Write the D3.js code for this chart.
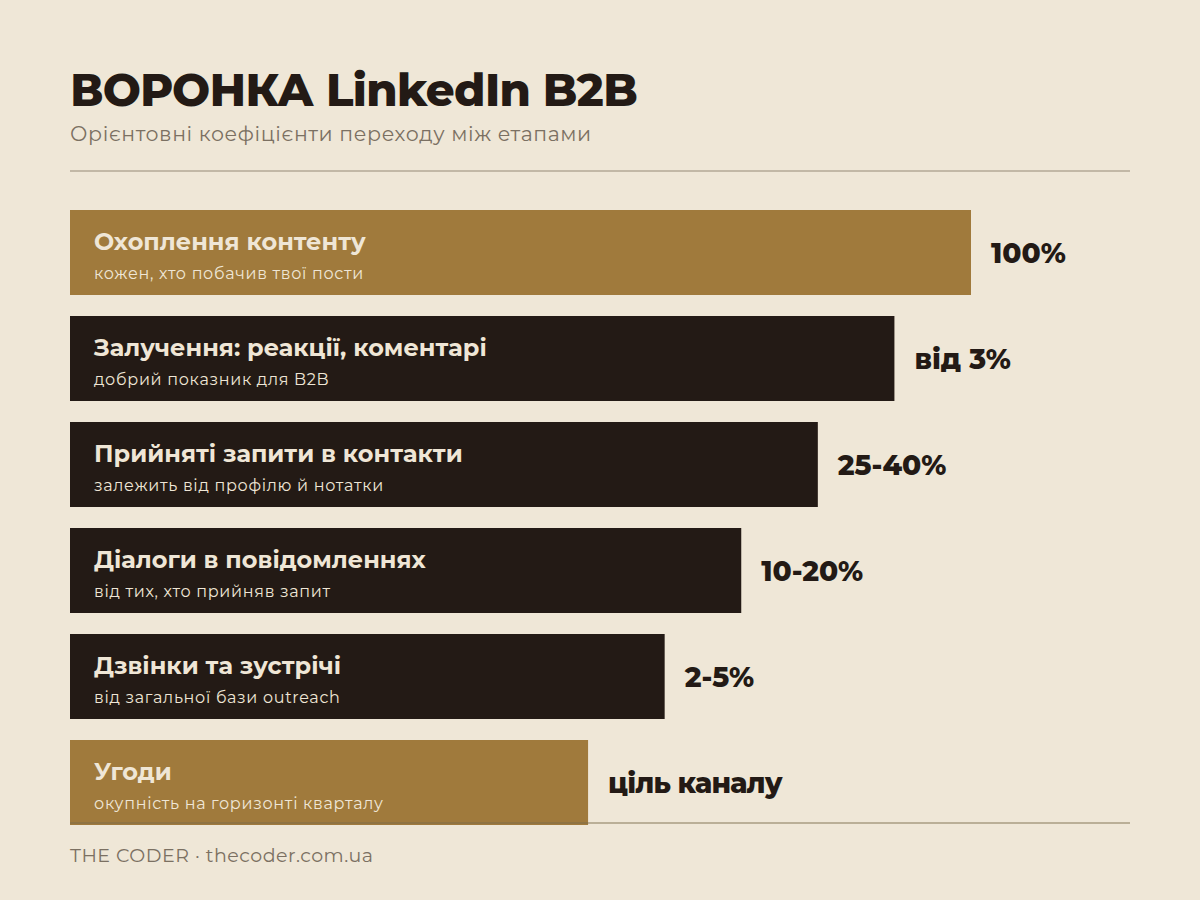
<!DOCTYPE html>
<html><head><meta charset="utf-8">
<script src="https://cdn.jsdelivr.net/npm/d3@7"></script>
<style>
html,body{margin:0;padding:0;background:#efe7d7;}
svg{display:block;}
</style></head>
<body>
<svg id="chart" width="1200" height="900"></svg>
<script>
const stages = ["Охоплення контенту","Залучення: реакції, коментарі","Прийняті запити в контакти","Діалоги в повідомленнях","Дзвінки та зустрічі","Угоди"];
const notes = ["кожен, хто побачив твої пости","добрий показник для B2B","залежить від профілю й нотатки","від тих, хто прийняв запит","від загальної бази outreach","окупність на горизонті кварталу"];
const rates = ["100%","від 3%","25-40%","10-20%","2-5%","ціль каналу"];
const funnelWidth = [100, 91.5, 83, 74.5, 66, 57.5];
const highlight = [true, false, false, false, false, true];

const W = 1200, H = 900;
const left = 70, right = 1130;
const font = "Montserrat, Inter, 'Noto Sans', sans-serif";
const svg = d3.select("#chart");
svg.append("rect").attr("width",W).attr("height",H).attr("fill","#efe7d7");

svg.append("text").attr("x",left).attr("y",106).attr("font-family",font)
  .attr("font-weight",800).attr("font-size",45).attr("fill","#231a15").attr("letter-spacing","-0.6")
  .text("ВОРОНКА LinkedIn B2B");
svg.append("text").attr("x",left).attr("y",141).attr("font-family",font)
  .attr("font-size",20.5).attr("fill","#7b7062").attr("letter-spacing","0.6")
  .text("Орієнтовні коефіцієнти переходу між етапами");
svg.append("line").attr("x1",left).attr("x2",right).attr("y1",171).attr("y2",171)
  .attr("stroke","#c2b8a6").attr("stroke-width",2);

const x = d3.scaleLinear().domain([0,100]).range([0,901]);
const y = d3.scaleBand().domain(d3.range(stages.length)).range([210,825]).paddingInner(21/106).paddingOuter(0);

const g = svg.append("g");
const rows = g.selectAll("g.row").data(stages).join("g").attr("class","row");
rows.append("rect").attr("x",left).attr("y",(d,i)=>y(i)).attr("width",(d,i)=>x(funnelWidth[i]))
  .attr("height",y.bandwidth()).attr("fill",(d,i)=>highlight[i]?"#a07a3c":"#231a15");
rows.append("text").attr("x",left+24).attr("y",(d,i)=>y(i)+40).attr("font-family",font)
  .attr("font-weight",700).attr("font-size",24).attr("fill","#efe6d6").text(d=>d);
rows.append("text").attr("x",left+24).attr("y",(d,i)=>y(i)+69).attr("font-family",font)
  .attr("font-size",16).attr("fill","#efe6d6").attr("letter-spacing","0.7").text((d,i)=>notes[i]);
rows.append("text").attr("x",(d,i)=>left+x(funnelWidth[i])+20).attr("y",(d,i)=>y(i)+y.bandwidth()/2+10)
  .attr("font-family",font).attr("font-weight",800).attr("font-size",28).attr("fill","#231a15")
  .attr("letter-spacing",(d,i)=>i===5?"-0.8":"0")
  .text((d,i)=>rates[i]);

svg.append("line").attr("x1",left).attr("x2",right).attr("y1",823).attr("y2",823)
  .attr("stroke","#7a6a4a").attr("stroke-opacity",0.45).attr("stroke-width",2);
svg.append("text").attr("x",left).attr("y",862).attr("font-family",font)
  .attr("font-size",19).attr("fill","#7b7062").attr("letter-spacing","0.5").text("THE CODER · thecoder.com.ua");
</script>
</body></html>
